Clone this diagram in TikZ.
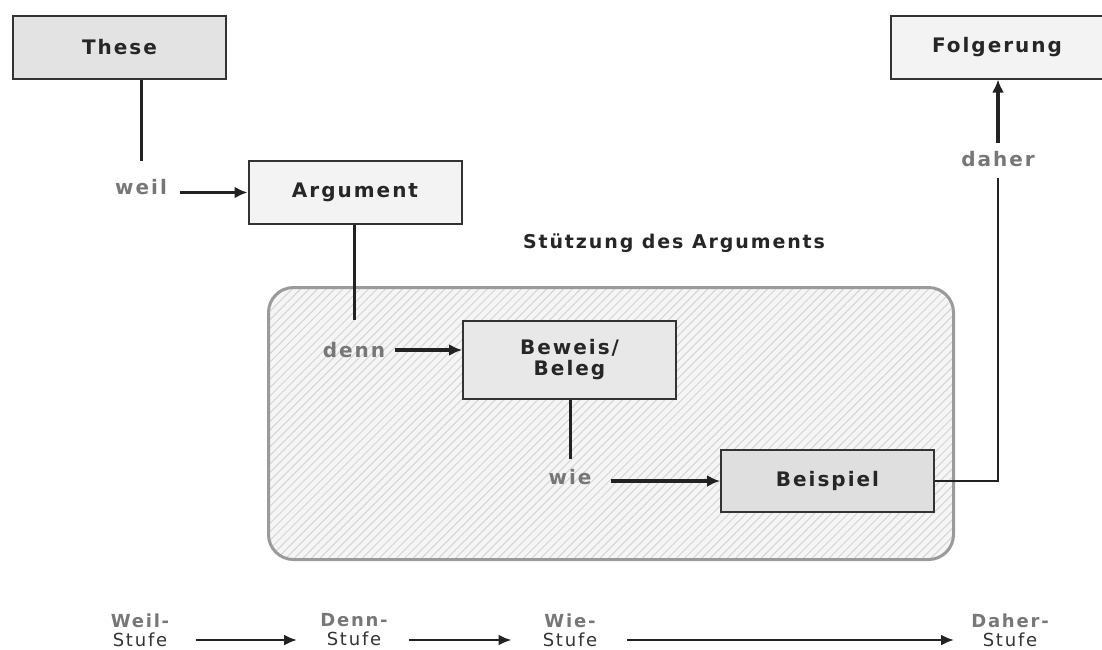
\documentclass[tikz,border=0pt]{standalone}
\usepackage{fontspec}
\setmainfont{DejaVu Sans}[LetterSpace=10]
\usetikzlibrary{arrows.meta,patterns.meta}
\definecolor{boxline}{HTML}{333333}
\definecolor{linecol}{HTML}{222222}
\definecolor{wordgray}{HTML}{777777}
\definecolor{framegray}{HTML}{9A9A9A}
\definecolor{hatchbg}{HTML}{F5F5F5}
\definecolor{hatchline}{HTML}{D4D4D4}
\definecolor{fillthese}{HTML}{E3E3E3}
\definecolor{filllight}{HTML}{F3F3F3}
\definecolor{fillbeweis}{HTML}{E8E8E8}
\definecolor{fillbsp}{HTML}{DFDFDF}
\begin{document}
\begin{tikzpicture}[x=1pt, y=-1pt,
    box/.style={draw=boxline, line width=2pt, minimum width=213pt, minimum height=63pt, align=center,
                font=\fontsize{20}{22}\selectfont\bfseries, text=black!85},
    word/.style={text=wordgray, font=\fontsize{20}{22}\selectfont\bfseries, text height=14pt, text depth=0pt,
                 inner sep=2pt, anchor=base},
    stage/.style={align=center, text=black!80, font=\fontsize{18}{19}\selectfont, inner sep=1pt},
    conn/.style={draw=linecol, line width=3pt},
    arr/.style={conn, line width=3.5pt, -{Latex[length=13pt,width=12pt]}},
    steparr/.style={draw=linecol, line width=2.5pt, -{Latex[length=13pt,width=11pt]}}
  ]
  \useasboundingbox (0,0) rectangle (1102,649);
  \node (stuetzung) [draw=framegray, line width=3pt, rounded corners=25pt, minimum width=685pt, minimum height=272pt,
        preaction={fill=hatchbg}, pattern={Lines[angle=45,distance=6pt,line width=1pt]}, pattern color=hatchline]
        at (611,423.5) {};
  \node (titel) [font=\fontsize{19}{21}\selectfont\bfseries, text=black!85] at (674,243) {Stützung des Arguments};

  \node [box, fill=fillthese] (These) at (119.5,47) {These};
  \node [box, fill=filllight] (Argument) at (355,192.5) {Argument};
  \node [box, fill=filllight] (Folgerung) at (997,47) {Folgerung};
  \node [box, fill=fillbeweis, minimum height=78pt] (Beweis) at (569.5,360) {Beweis/\\[-1pt]Beleg};
  \node [box, fill=fillbsp, minimum height=62pt] (Beispiel) at (827.5,481) {Beispiel};

  \node [word] (weil) at (141,194) {weil};
  \node [word] (denn) at (354,357) {denn};
  \node [word] (wie) at (570,484) {wie};
  \node [word] (daher) at (998,166) {daher};

  \draw [conn, shorten >=17pt] (These.south -| weil.north) -- (weil.north);
  \draw [arr, shorten <=11pt] (weil.east |- Argument.west) -- (Argument.west);
  \draw [conn, shorten >=21pt] (Argument.south -| denn.north) -- (denn.north);
  \draw [arr, shorten <=8pt] (denn.east) -- (denn.east -| Beweis.west);
  \draw [conn, shorten >=9pt] (Beweis.south -| wie.north) -- (wie.north);
  \draw [arr, shorten <=17pt] (wie.east |- Beispiel.west) -- (Beispiel.west);
  \draw [conn, line width=2.5pt, shorten >=10pt] (Beispiel.east) -| (daher.south);
  \draw [arr, shorten <=7pt] (daher.north) -- (daher.north |- Folgerung.south);

  \node [stage] (WeilS) at (140,630) {\textbf{\color{wordgray}Weil-}\\Stufe};
  \node [stage] (DennS) at (354,630) {\textbf{\color{wordgray}Denn-}\\Stufe};
  \node [stage] (WieS) at (570,630) {\textbf{\color{wordgray}Wie-}\\Stufe};
  \node [stage] (DaherS) at (1010,630) {\textbf{\color{wordgray}Daher-}\\Stufe};

  \draw [steparr, shorten <=26pt, shorten >=22pt] ([yshift=-10pt]WeilS.east) -- ([yshift=-10pt]DennS.west);
  \draw [steparr, shorten <=20pt, shorten >=30pt] ([yshift=-10pt]DennS.east) -- ([yshift=-10pt]WieS.west);
  \draw [steparr, shorten <=29pt, shorten >=16pt] ([yshift=-10pt]WieS.east) -- ([yshift=-10pt]DaherS.west);
\end{tikzpicture}
\end{document}
